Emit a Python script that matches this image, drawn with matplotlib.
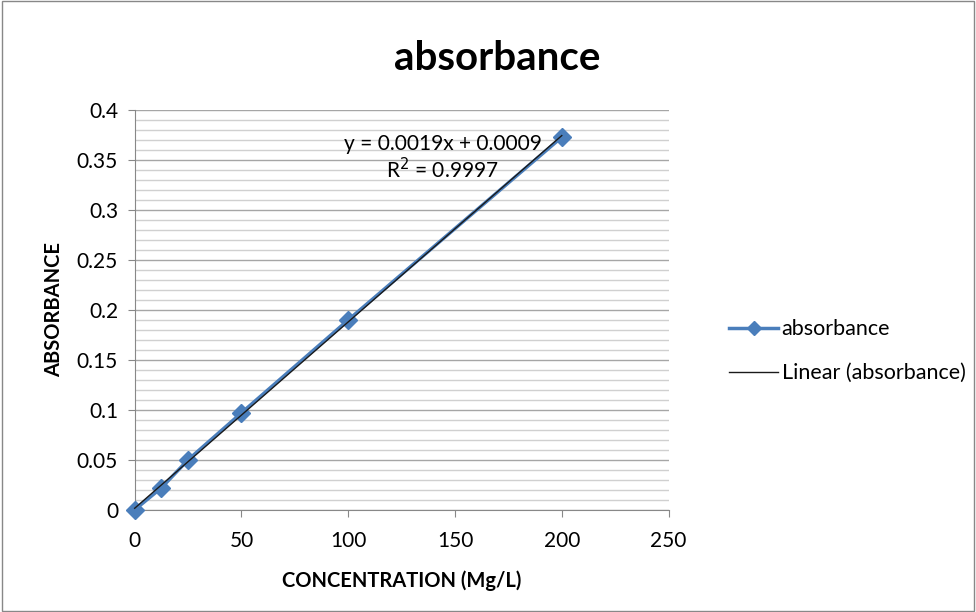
import numpy as np
import matplotlib.pyplot as plt
import matplotlib.ticker as ticker

plt.rcParams['font.family'] = ['Lato', 'DejaVu Sans']

# data
concentration = [0, 12.5, 25, 50, 100, 200]
absorbance = [0.0, 0.022, 0.050, 0.097, 0.190, 0.373]
x_ticks = [0, 50, 100, 150, 200, 250]
y_ticks = [0, 0.05, 0.1, 0.15, 0.2, 0.25, 0.3, 0.35, 0.4]
y_tick_labels = ['0', '0.05', '0.1', '0.15', '0.2', '0.25', '0.3', '0.35', '0.4']

blue = '#4a7ebb'

fig = plt.figure(figsize=(9.76, 6.12), dpi=100)
fig.patches.append(plt.Rectangle((0.002, 0.002), 0.996, 0.996, transform=fig.transFigure,
                                 fill=False, edgecolor='#888888', linewidth=1))
ax = fig.add_axes([0.138, 0.167, 0.547, 0.653])

# linear trend line
slope, intercept = np.polyfit(concentration, absorbance, 1)
xs = np.array([min(concentration), max(concentration)])

ax.plot(concentration, absorbance, color=blue, linewidth=2.5, marker='D',
        markersize=9, label='absorbance', zorder=3, clip_on=False)
ax.plot(xs, slope * xs + intercept, color='#1a1a1a', linewidth=1,
        label='Linear (absorbance)', zorder=4, clip_on=False)

ax.set_xlim(0, 250)
ax.set_ylim(0, 0.4)
ax.set_xticks(x_ticks)
ax.set_yticks(y_ticks)
ax.set_yticklabels(y_tick_labels)
ax.yaxis.set_minor_locator(ticker.MultipleLocator(0.01))
ax.grid(which='major', axis='y', color='#a6a6a6', linewidth=1)
ax.grid(which='minor', axis='y', color='#d0d0d0', linewidth=1)
ax.set_axisbelow(True)

for s in ['top', 'right']:
    ax.spines[s].set_visible(False)
for s in ['left', 'bottom']:
    ax.spines[s].set_color('#888888')
ax.tick_params(axis='both', which='major', direction='out', length=5, color='#888888',
               labelsize=15)
ax.tick_params(axis='y', pad=7)
ax.tick_params(axis='x', pad=10)
ax.tick_params(axis='y', which='minor', length=0)

ax.set_xlabel('CONCENTRATION (Mg/L)', fontsize=14.5, fontweight='bold', labelpad=14)
ax.set_ylabel('ABSORBANCE', fontsize=14.5, fontweight='bold', labelpad=9)

fig.text(0.509, 0.905, 'absorbance', fontsize=29, fontweight='bold', ha='center', va='center')

ax.text(0.577, 0.88, 'y = 0.0019x + 0.0009\nR$^2$ = 0.9997', transform=ax.transAxes,
        ha='center', va='center', fontsize=15, linespacing=1.15)

fig.legend(loc='center left', bbox_to_anchor=(0.727, 0.426), frameon=False,
           fontsize=15.5, handlelength=2.3, labelspacing=1.1, handletextpad=0.15,
           markerscale=0.75)

fig.savefig('out.png', dpi=100)
